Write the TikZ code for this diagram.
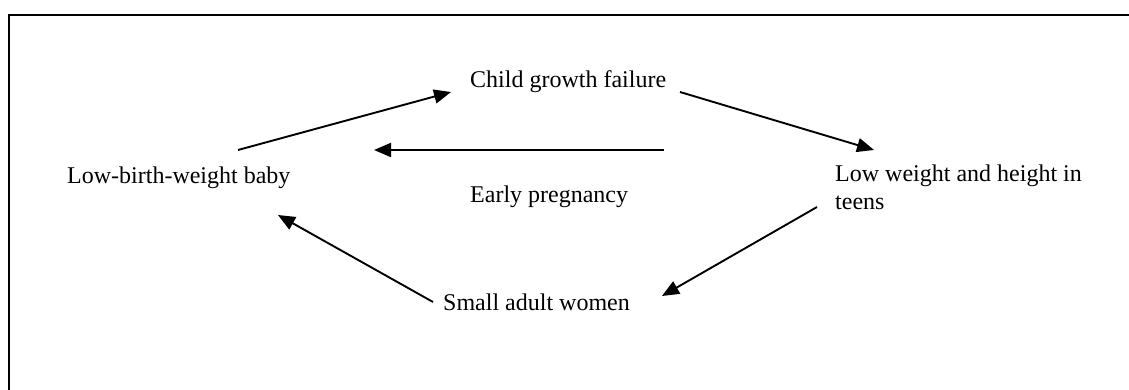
\documentclass[tikz,border=0pt]{standalone}
\usepackage{fontspec}
\setmainfont{Liberation Serif}
\usetikzlibrary{arrows.meta}
\begin{document}
\begin{tikzpicture}[x=1pt,y=-1pt,
  lbl/.style={anchor=base west,inner sep=0pt,font=\fontsize{24}{27.5}\selectfont,align=left},
  arr/.style={line width=1.9pt,-{Triangle[length=17pt,width=14pt]}},
  frame/.style={line width=2.2pt}]
\useasboundingbox (0,0) rectangle (1129,390);
\coordinate (fl) at (9,390);
\coordinate (ftl) at (9,15);
\coordinate (fr) at (1129,15);
\draw[frame] (fl) -- (ftl) -- (fr);
\node[lbl] (cgf) at (470,88) {Child growth failure};
\node[lbl] (lbw) at (67,183) {Low-birth-weight baby};
\node[lbl] (ep) at (470,203) {Early pregnancy};
\node[lbl] (lwh) at (835,209) {Low weight and height in\\teens};
\node[lbl] (saw) at (443,310) {Small adult women};
\coordinate (a1s) at (238,150); \coordinate (a1e) at (451,92);
\coordinate (a2s) at (664,150); \coordinate (a2e) at (374,150);
\coordinate (a3s) at (680,92);  \coordinate (a3e) at (874,150);
\coordinate (a4s) at (817,207); \coordinate (a4e) at (662,296);
\coordinate (a5s) at (433,302); \coordinate (a5e) at (278,215);
\draw[arr] (a1s) -- (a1e);
\draw[arr] (a2s) -- (a2e);
\draw[arr] (a3s) -- (a3e);
\draw[arr] (a4s) -- (a4e);
\draw[arr] (a5s) -- (a5e);
\end{tikzpicture}
\end{document}
